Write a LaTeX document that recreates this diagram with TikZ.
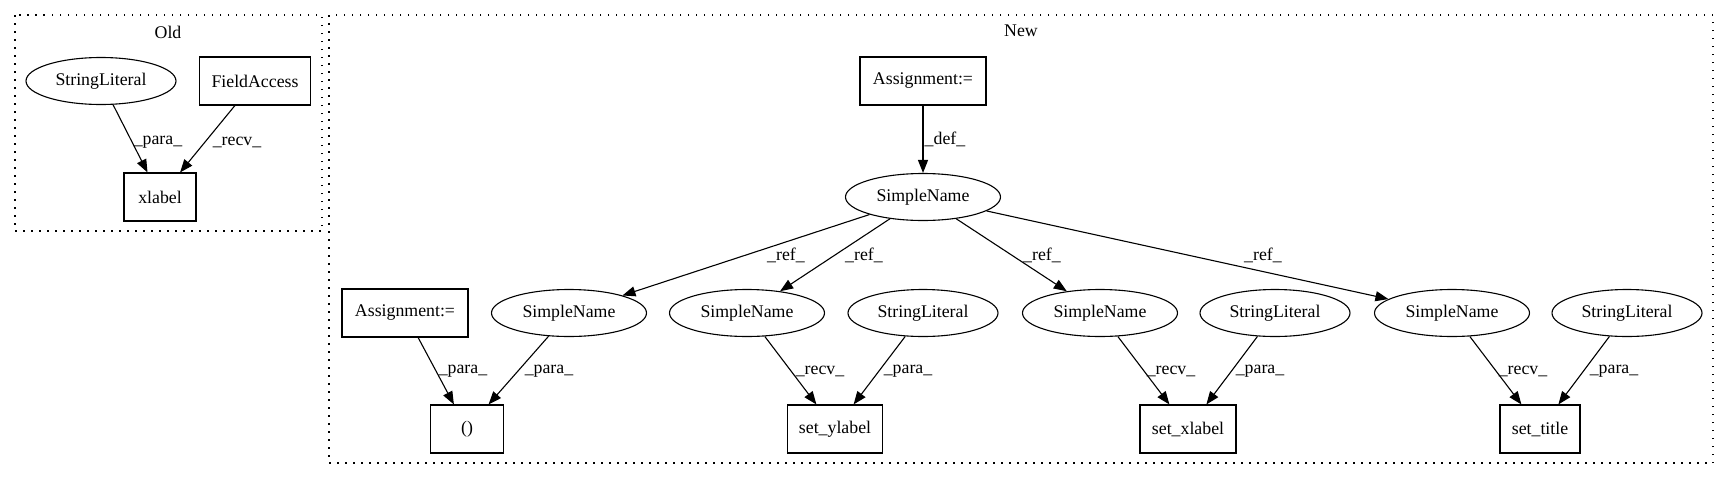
\documentclass[tikz,border=0pt]{standalone}
\usepackage{fontspec}
\setmainfont{Liberation Serif}
\usetikzlibrary{positioning, shapes.geometric, arrows.meta}

\begin{document}
\begin{tikzpicture}[x=1pt, y=-1pt, line width=1.1pt,
    font=\fontsize{17.8}{20}\selectfont,
    ell/.style={ellipse, draw=black, inner sep=0pt, minimum height=47pt},
    box/.style={rectangle, draw=black, inner sep=0pt, minimum height=48pt},
    lbl/.style={inner sep=0pt},
    flow/.style={-{Triangle[length=13pt, width=10pt]}},
    cluster/.style={draw=black, dash pattern=on 1.5pt off 6.5pt}]
            \useasboundingbox (0,0) rectangle (1729,480);

            % Old
            \draw[cluster] (15,15) rectangle (322,231);
            \node (oldtitle) at (168,32) {Old};
            \node[ell, minimum width=150pt] (oldstr) at (101,81) {StringLiteral};
            \node[box, minimum width=111pt] (oldfield) at (255,81) {FieldAccess};
            \node[box, minimum width=72pt] (oldxlabel) at (160,197) {xlabel};

            \draw[flow] (oldstr) -- (oldxlabel) node[lbl] at (158,142) {\_para\_};
            \draw[flow] (oldfield) -- (oldxlabel) node[lbl] at (237,142) {\_recv\_};

            % New
            \draw[cluster] (329,15) rectangle (1713,463);
            \node (newtitle) at (1021,31) {New};
            \node[box, minimum width=126pt] (asg1) at (923,81) {Assignment:=};
            \node[ell, minimum width=155pt] (sn0) at (923,197) {SimpleName};

            \node[box, minimum width=126pt] (asg2) at (405,313) {Assignment:=};
            \node[ell, minimum width=155pt] (sn1) at (569,313) {SimpleName};
            \node[ell, minimum width=155pt] (sn2) at (747,313) {SimpleName};
            \node[ell, minimum width=150pt] (str1) at (923,313) {StringLiteral};
            \node[ell, minimum width=155pt] (sn3) at (1100,313) {SimpleName};
            \node[ell, minimum width=150pt] (str2) at (1275,313) {StringLiteral};
            \node[ell, minimum width=155pt] (sn4) at (1452,313) {SimpleName};
            \node[ell, minimum width=150pt] (str3) at (1627,313) {StringLiteral};

            \node[box, minimum width=73pt] (call) at (467,429) {()};
            \node[box, minimum width=95pt] (ylab) at (835,429) {set\_ylabel};
            \node[box, minimum width=96pt] (xlab) at (1188,429) {set\_xlabel};
            \node[box, minimum width=80pt] (title) at (1540,429) {set\_title};

            \draw[flow] (asg1) -- (sn0) node[lbl] at (945,139) {\_def\_};
            \draw[flow] (sn0) -- (sn1) node[lbl] at (786,255) {\_ref\_};
            \draw[flow] (sn0) -- (sn2) node[lbl] at (864,255) {\_ref\_};
            \draw[flow] (sn0) -- (sn3) node[lbl] at (1042,255) {\_ref\_};
            \draw[flow] (sn0) -- (sn4) node[lbl] at (1263,255) {\_ref\_};

            \draw[flow] (asg2) -- (call) node[lbl] at (463,371) {\_para\_};
            \draw[flow] (sn1) -- (call) node[lbl] at (549,371) {\_para\_};
            \draw[flow] (sn2) -- (ylab) node[lbl] at (820,371) {\_recv\_};
            \draw[flow] (str1) -- (ylab) node[lbl] at (908,371) {\_para\_};
            \draw[flow] (sn3) -- (xlab) node[lbl] at (1171,371) {\_recv\_};
            \draw[flow] (str2) -- (xlab) node[lbl] at (1260,371) {\_para\_};
            \draw[flow] (sn4) -- (title) node[lbl] at (1523,371) {\_recv\_};
            \draw[flow] (str3) -- (title) node[lbl] at (1614,371) {\_para\_};
\end{tikzpicture}
\end{document}
